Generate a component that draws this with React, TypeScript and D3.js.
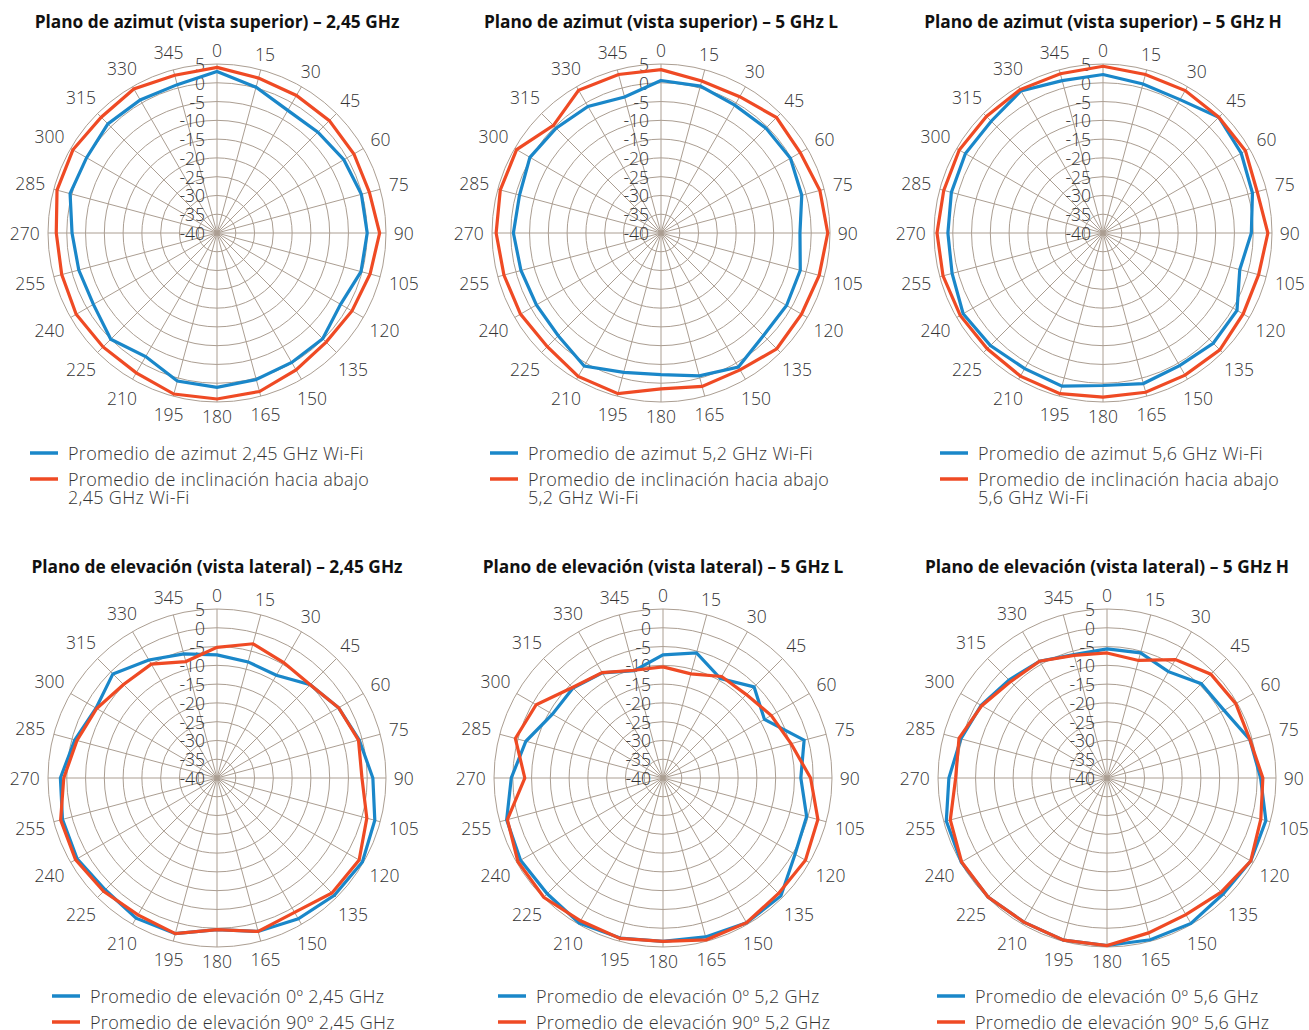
import React from 'react'
import * as d3 from "d3";

// angle categories (degrees) and radial ticks (dB)
const angles = [0, 15, 30, 45, 60, 75, 90, 105, 120, 135, 150, 165, 180, 195, 210, 225, 240, 255, 270, 285, 300, 315, 330, 345]
const radialTicks = [5, 0, -5, -10, -15, -20, -25, -30, -35, -40]

// azimuth plane
const az245Azimut = [3.0, 0.2, -2.3, -2.0, -1.0, -0.2, 0.0, -0.3, -2.0, -0.2, -0.2, 0.4, 1.1, 0.8, -2.0, 0.0, -2.0, -1.9, -1.4, 0.5, 0.1, 1.1, 0.9, 0.9]
const az245Inclin = [4.1, 2.7, 2.3, 2.3, 2.1, 2.0, 3.3, 2.2, 1.5, 1.1, 2.1, 3.7, 4.2, 4.4, 3.0, 2.9, 3.3, 2.8, 2.8, 4.1, 4.3, 3.6, 4.3, 3.5]
const az52Azimut = [0.6, 0.5, -0.7, -0.5, -0.2, -1.2, -3.0, -1.6, -1.4, -1.4, 1.2, -0.6, -2.3, -1.6, 0.9, -1.3, -1.7, -1.4, -0.7, -1.0, 0.3, -0.5, -1.1, -2.5]
const az52Inclin = [3.5, 1.9, 1.9, 3.5, 2.8, 3.8, 4.4, 3.6, 3.2, 3.6, 2.1, 2.3, 1.5, 4.3, 4.1, 2.8, 3.2, 3.3, 3.9, 4.3, 4.4, 0.5, 3.9, 3.7]
const az56Azimut = [2.2, 1.1, 1.0, 3.6, 2.5, 1.2, -0.5, -2.3, 1.2, 1.5, 0.8, 1.5, 0.6, 2.2, 1.7, 2.4, 3.0, 1.6, 1.3, 1.8, 2.3, 2.1, 3.7, 2.0]
const az56Inclin = [4.4, 3.7, 3.8, 3.6, 3.8, 2.5, 3.9, 2.9, 3.1, 4.0, 3.7, 3.9, 3.7, 4.3, 4.0, 3.6, 3.9, 4.1, 4.2, 3.9, 4.2, 3.9, 4.1, 3.9]

// elevation plane
const el245Deg0 = [-7.2, -8.0, -8.4, -4.9, -2.6, -0.8, 1.5, 3.5, 4.7, 4.2, 3.3, 2.3, 0.4, 2.9, 3.1, 2.1, 3.0, 2.6, 1.7, -0.8, -2.8, -0.8, -3.7, -5.8]
const el245Deg90 = [-5.2, -3.0, -4.5, -4.9, -2.6, -1.0, -1.4, 1.3, 3.7, 3.3, 1.3, 2.3, 0.4, 2.9, 2.1, 2.7, 3.5, 3.1, 0.8, -1.4, -3.0, -4.8, -5.0, -7.9]
const el52Deg0 = [-7.2, -5.5, -9.4, -5.7, -8.8, -1.1, -3.3, -0.4, 0.6, 4.4, 4.5, 3.8, 3.5, 4.1, 4.6, 3.6, 3.8, 3.1, 0.4, -2.2, -6.0, -6.1, -7.7, -10.4]
const el52Deg90 = [-10.4, -11.3, -8.8, -8.6, -6.7, -4.7, -0.7, 2.7, 3.8, 3.5, 4.5, 4.6, 3.5, 4.2, 3.9, 4.9, 4.6, 2.9, -3.2, 0.7, -1.0, -5.9, -7.6, -10.3]
const el56Deg0 = [-5.6, -5.5, -7.3, -4.5, -4.0, -0.6, 0.9, 3.8, 4.2, 3.7, 4.7, 4.6, 4.6, 4.7, 4.3, 4.8, 4.8, 4.3, 2.1, 0.3, -1.3, -3.1, -4.1, -6.0]
const el56Deg90 = [-6.7, -7.6, -3.6, -0.9, -0.4, -0.6, 1.5, 2.4, 4.2, 3.0, 2.0, 2.7, 4.6, 4.7, 4.3, 4.8, 4.7, 3.2, 0.3, 0.8, -1.5, -3.7, -4.1, -6.2]

const BLUE = "#1a87c9"
const RED = "#ef4a24"
const GRID = "#ab9e92"
const TEXT = "#333"
const FONT = "'Open Sans', sans-serif"

const charts = [
  { title: "Plano de azimut (vista superior) – 2,45 GHz", cx: 217, cy: 233, lx: 30, ly: 453,
    series: [az245Azimut, az245Inclin],
    legend: [["Promedio de azimut 2,45 GHz Wi-Fi"], ["Promedio de inclinación hacia abajo", "2,45 GHz Wi-Fi"]] },
  { title: "Plano de azimut (vista superior) – 5 GHz L", cx: 661, cy: 233, lx: 490, ly: 453,
    series: [az52Azimut, az52Inclin],
    legend: [["Promedio de azimut 5,2 GHz Wi-Fi"], ["Promedio de inclinación hacia abajo", "5,2 GHz Wi-Fi"]] },
  { title: "Plano de azimut (vista superior) – 5 GHz H", cx: 1103, cy: 233, lx: 940, ly: 453,
    series: [az56Azimut, az56Inclin],
    legend: [["Promedio de azimut 5,6 GHz Wi-Fi"], ["Promedio de inclinación hacia abajo", "5,6 GHz Wi-Fi"]] },
  { title: "Plano de elevación (vista lateral) – 2,45 GHz", cx: 217, cy: 778, lx: 52, ly: 996,
    series: [el245Deg0, el245Deg90],
    legend: [["Promedio de elevación 0º 2,45 GHz"], ["Promedio de elevación 90º 2,45 GHz"]] },
  { title: "Plano de elevación (vista lateral) – 5 GHz L", cx: 663, cy: 778, lx: 498, ly: 996,
    series: [el52Deg0, el52Deg90],
    legend: [["Promedio de elevación 0º 5,2 GHz"], ["Promedio de elevación 90º 5,2 GHz"]] },
  { title: "Plano de elevación (vista lateral) – 5 GHz H", cx: 1107, cy: 778, lx: 937, ly: 996,
    series: [el56Deg0, el56Deg90],
    legend: [["Promedio de elevación 0º 5,6 GHz"], ["Promedio de elevación 90º 5,6 GHz"]] },
]

const R = 169

function drawChart(svgRef: React.RefObject<SVGSVGElement>) {
  const svg = d3.select(svgRef.current)
  svg.selectAll("*").remove()

  const r = d3.scaleLinear().domain([-40, 5]).range([0, R])
  const rad = (a: number) => a * Math.PI / 180

  const line = d3.lineRadial<number>()
    .angle((d, i) => rad(angles[i]))
    .radius(d => r(d))
    .curve(d3.curveLinearClosed)

  charts.forEach(c => {
    const g = svg.append("g")
      .attr("font-family", FONT)
      .attr("fill", TEXT)

    g.append("text")
      .attr("x", c.cx)
      .attr("y", c.cy - 212)
      .attr("text-anchor", "middle")
      .attr("dominant-baseline", "central")
      .attr("font-size", 17.3)
      .attr("font-weight", "bold")
      .attr("fill", "#111")
      .text(c.title)

    const p = g.append("g").attr("transform", `translate(${c.cx},${c.cy})`)

    p.append("g")
      .selectAll("circle")
      .data(radialTicks)
      .join("circle")
        .attr("r", d => r(d))
        .attr("fill", "none")
        .attr("stroke", GRID)
        .attr("stroke-width", 1)

    p.append("g")
      .selectAll("line")
      .data(angles)
      .join("line")
        .attr("x2", d => R * Math.sin(rad(d)))
        .attr("y2", d => -R * Math.cos(rad(d)))
        .attr("stroke", GRID)
        .attr("stroke-width", 1)

    p.append("g")
      .selectAll("text")
      .data(radialTicks)
      .join("text")
        .attr("x", -12)
        .attr("y", d => -r(d))
        .attr("text-anchor", "end")
        .attr("dominant-baseline", "central")
        .attr("font-size", 17.5)
        .attr("font-weight", 300)
        .text(d => d)

    p.append("g")
      .selectAll("text")
      .data(angles)
      .join("text")
        .attr("transform", d => {
          const w = String(d).length * 10.8
          const off = 176 + Math.abs(Math.sin(rad(d))) * w / 2 + Math.abs(Math.cos(rad(d))) * 7
          return `translate(${off * Math.sin(rad(d))},${-off * Math.cos(rad(d))})`
        })
        .attr("text-anchor", "middle")
        .attr("dominant-baseline", "central")
        .attr("font-size", 17.5)
        .attr("font-weight", 300)
        .text(d => d)

    p.append("g")
      .selectAll("path")
      .data(c.series)
      .join("path")
        .attr("d", d => line(d))
        .attr("fill", "none")
        .attr("stroke", (d, i) => i === 0 ? BLUE : RED)
        .attr("stroke-width", 3.2)
        .attr("stroke-linejoin", "miter")

    const leg = g.append("g").attr("transform", `translate(${c.lx},${c.ly})`)
    let y = 0
    c.legend.forEach((lines, i) => {
      leg.append("line")
        .attr("x1", 0).attr("x2", 28)
        .attr("y1", y).attr("y2", y)
        .attr("stroke", i === 0 ? BLUE : RED)
        .attr("stroke-width", 3.5)
      lines.forEach((t, j) => {
        leg.append("text")
          .attr("x", 38)
          .attr("y", y + j * 18)
          .attr("dominant-baseline", "central")
          .attr("font-size", 18)
          .attr("font-weight", 300)
          .attr("letter-spacing", 0.3)
          .text(t)
      })
      y += 26
    })
  })
}

const App: React.FunctionComponent = () => {
  const svg = React.useRef<SVGSVGElement>(null)

  React.useEffect(() => {
    drawChart(svg)
  }, [svg])

  return (
    <div id="chart">
      <style>{`body{margin:0;background:#fff}`}</style>
      <svg ref={svg} width={1309} height={1030} style={{ display: "block" }} />
    </div>
  )
}

export default App
